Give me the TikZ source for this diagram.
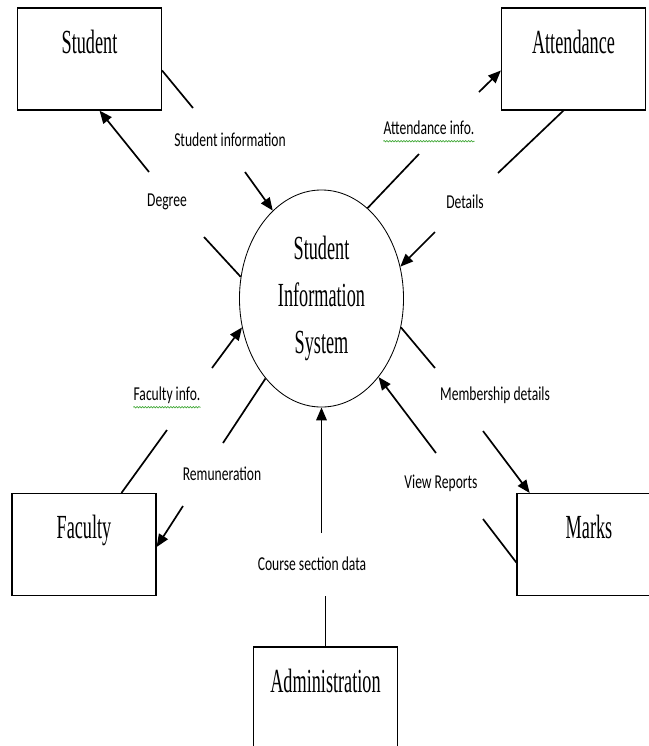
\documentclass[tikz,border=0pt]{standalone}
\usepackage{fontspec}
\setmainfont{Liberation Serif}[FakeStretch=0.54]
\newfontfamily\flowfont{Carlito}[FakeStretch=0.69]
\usepackage{xcolor}
\usepackage{tikz}
\usetikzlibrary{positioning}
\usetikzlibrary{shapes.geometric}
\usetikzlibrary{arrows.meta}
\usetikzlibrary{decorations.pathmorphing}
\definecolor{spellgreen}{RGB}{70,170,60}

\begin{document}
\begin{tikzpicture}
  [
    x=0.025cm, y=-0.025cm,
    entity/.style={
       draw=black,
       line width=0.8pt,
       minimum width=3.6cm,
       text height=1.125cm,
       text depth=1.425cm,
       inner sep=0pt,
       font=\fontsize{24}{28}\selectfont
    },
    process/.style={
       draw=black,
       ellipse,
       line width=0.6pt,
       minimum width=4.1cm,
       minimum height=5.425cm,
       inner sep=0pt,
       align=center,
       font=\fontsize{24}{33.4}\selectfont
    },
    flow/.style={
       draw=black,
       line width=1.2pt
    },
    fd/.style={
       flow,
       -{Triangle[length=3.2mm,width=2.6mm]}
    },
    lbl/.style={
       anchor=base,
       inner sep=0pt,
       font=\flowfont\fontsize{14}{16}\selectfont
    },
    squiggle/.style={
       draw=spellgreen,
       line width=0.5pt,
       decorate,
       decoration={snake, amplitude=0.5pt, segment length=2pt}
    }
  ]
  \useasboundingbox (0,0) rectangle (649,746);
  \clip (0,0) rectangle (649,746);

  \node (stud)  at ( 89.5, 59.0) [entity]  {Student};
  \node (att)   at (573.5, 59.0) [entity]  {Attendance};
  \node (fac)   at ( 84.0,544.5) [entity]  {Faculty};
  \node (marks) at (589.0,544.5) [entity]  {Marks};
  \node (admin) at (325.5,698.0) [entity]  {Administration};
  \node (sis)   at (321.5,298.5) [process] {Student\\Information\\System};

  \node (lStudInfo) at (230,146) [lbl] {Student information};
  \node (lDegree)   at (167,206) [lbl] {Degree};
  \node (lAttInfo)  at (429,134) [lbl] {Attendance info.};
  \node (lDetails)  at (465,208) [lbl] {Details};
  \node (lFacInfo)  at (167,400) [lbl] {Faculty info.};
  \node (lRemun)    at (222,480) [lbl] {Remuneration};
  \node (lCourse)   at (312,570) [lbl] {Course section data};
  \node (lMember)   at (495,400) [lbl] {Membership details};
  \node (lReports)  at (441,488) [lbl] {View Reports};

  \coordinate (si1) at (193,108);
  \coordinate (si2) at (245,172);
  \coordinate (dg1) at (204,237);
  \coordinate (dg2) at (149,172);
  \coordinate (ai1) at (419,154);
  \coordinate (ai2) at (479, 92);
  \coordinate (dt1) at (498,173);
  \coordinate (dt2) at (435,232);
  \coordinate (fi1) at (167,430);
  \coordinate (fi2) at (212,368);
  \coordinate (rm1) at (223,443);
  \coordinate (rm2) at (183,506);
  \coordinate (cs1) at (325.5,596);
  \coordinate (cs2) at (321.5,533);
  \coordinate (md1) at (435,368);
  \coordinate (md2) at (483,431);
  \coordinate (vr1) at (483,519);
  \coordinate (vr2) at (436,453);

  \draw [flow] (stud.-9)    -- (si1);
  \draw [fd]   (si2)        -- (sis.119);
  \draw [flow] (sis.165)    -- (dg1);
  \draw [fd]   (dg2)        -- (stud.-79);
  \draw [flow] (sis.63)     -- (ai1);
  \draw [fd]   (ai2)        -- (att.189);
  \draw [flow] (att.-101)   -- (dt1);
  \draw [fd]   (dt2)        -- (sis.22);
  \draw [flow] (fac.54)     -- (fi1);
  \draw [fd]   (fi2)        -- (sis.200);
  \draw [flow] (sis.235)    -- (rm1);
  \draw [fd]   (rm2)        -- (fac.-2);
  \draw [flow] (admin.north) -- (cs1);
  \draw [fd]   (cs2)        -- (sis.south);
  \draw [flow] (sis.-20)    -- (md1);
  \draw [fd]   (md2)        -- (marks.139);
  \draw [flow] (marks.194)  -- (vr1);
  \draw [fd]   (vr2)        -- (sis.-54);

  \draw [squiggle] ([yshift=-0.18cm]lAttInfo.base west) -- ([yshift=-0.18cm]lAttInfo.base east);
  \draw [squiggle] ([yshift=-0.18cm]lFacInfo.base west) -- ([yshift=-0.18cm]lFacInfo.base east);
\end{tikzpicture}
\end{document}
